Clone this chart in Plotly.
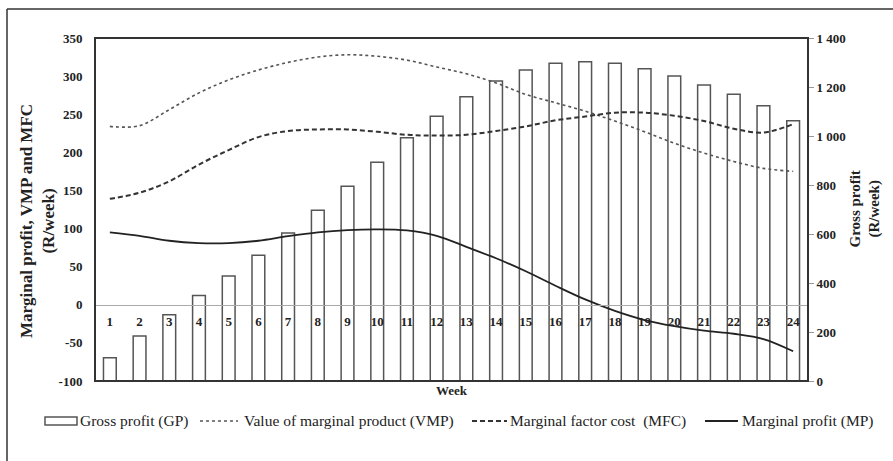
import plotly.graph_objects as go

weeks = list(range(1, 25))
week_labels = [str(w) for w in weeks]
gross_profit = [95, 184, 270, 349, 429, 513, 604, 697, 795, 893, 993, 1081,
                1160, 1224, 1269, 1297, 1303, 1297, 1275, 1245, 1208, 1170, 1123, 1062]
vmp = [234, 235, 256, 278, 295, 308, 318, 325, 328, 326, 321, 312,
       303, 291, 276, 265, 254, 241, 227, 212, 199, 188, 179, 175]
mfc = [139, 147, 162, 184, 203, 220, 228, 230, 230, 227, 223, 222,
       223, 228, 234, 242, 247, 252, 252, 248, 241, 231, 226, 237]
mp = [95, 90.5, 84, 81, 81, 84, 90, 95, 98, 99, 97.5, 90.5,
      76, 61, 44, 25, 7, -8, -20, -28, -34, -38, -45, -61]

left_ticks = [-100, -50, 0, 50, 100, 150, 200, 250, 300, 350]
left_ticktext = ["-100", "-50", "0", "50", "100", "150", "200", "250", "300", "350"]
right_ticks = [0, 200, 400, 600, 800, 1000, 1200, 1400]
right_ticktext = ["0", "200", "400", "600", "800", "1 000", "1 200", "1 400"]

series_names = ["Gross profit (GP)", "Value of marginal product (VMP)",
                "Marginal factor cost  (MFC)", "Marginal profit (MP)"]

FONT = "Liberation Serif"
W, H = 893, 461
ML, MR, MT, MB = 95, 85, 38, 80
PW, PH = W - ML - MR, H - MT - MB


def px(x):
    return (x - ML) / PW


def py(y):
    return (H - MB - y) / PH


BAR_STYLE = dict(color="white", line=dict(color="#555555", width=1.5))
VMP_LINE = dict(color="#555555", width=1.6, dash="dot")
MFC_LINE = dict(color="#333333", width=2, dash="5px,3px")
MP_LINE = dict(color="#222222", width=1.8)

fig = go.Figure()
fig.add_trace(go.Bar(
    x=weeks, y=gross_profit, name=series_names[0], yaxis="y",
    marker=BAR_STYLE, width=0.43,
))
fig.add_trace(go.Scatter(
    x=weeks, y=vmp, name=series_names[1], yaxis="y2", mode="lines",
    line=dict(**VMP_LINE, shape="spline", smoothing=1.0),
))
fig.add_trace(go.Scatter(
    x=weeks, y=mfc, name=series_names[2], yaxis="y2", mode="lines",
    line=dict(**MFC_LINE, shape="spline", smoothing=1.0),
))
fig.add_trace(go.Scatter(
    x=weeks, y=mp, name=series_names[3], yaxis="y2", mode="lines",
    line=dict(**MP_LINE, shape="spline", smoothing=1.0),
))

ymin, ymax = left_ticks[0], left_ticks[-1]
zero_pos = (0 - ymin) / (ymax - ymin)

# manual legend (one row, as in the original)
LEG_Y = 421
legend_shapes = [
    dict(type="rect", xref="paper", yref="paper", x0=px(45), x1=px(77),
         y0=py(LEG_Y + 4), y1=py(LEG_Y - 4), line=BAR_STYLE["line"], fillcolor="white"),
    dict(type="line", xref="paper", yref="paper", x0=px(200), x1=px(238),
         y0=py(LEG_Y), y1=py(LEG_Y), line=VMP_LINE),
    dict(type="line", xref="paper", yref="paper", x0=px(472), x1=px(507),
         y0=py(LEG_Y), y1=py(LEG_Y), line=MFC_LINE),
    dict(type="line", xref="paper", yref="paper", x0=px(705), x1=px(738),
         y0=py(LEG_Y), y1=py(LEG_Y), line=MP_LINE),
]
legend_text_x = [78, 242, 508, 740]
legend_annotations = [
    dict(text=name, xref="paper", yref="paper", x=px(tx), y=py(LEG_Y),
         xanchor="left", yanchor="middle", showarrow=False,
         font=dict(family=FONT, size=15.5, color="#222222"))
    for name, tx in zip(series_names, legend_text_x)
]

fig.update_layout(
    width=W, height=H,
    margin=dict(l=ML, r=MR, t=MT, b=MB),
    paper_bgcolor="white", plot_bgcolor="white",
    font=dict(family=FONT, color="#222222", size=13),
    showlegend=False,
    xaxis=dict(
        range=[0.5, 24.5], tickvals=weeks, ticktext=week_labels,
        anchor="free", position=zero_pos,
        showline=True, linecolor="#aaaaaa", linewidth=1,
        ticks="outside", ticklen=5, tickcolor="rgba(0,0,0,0)",
        tickfont=dict(family=FONT, size=13, color="#222222", weight="bold"),
        showgrid=False, zeroline=False,
    ),
    yaxis=dict(
        side="right", range=[0, 1400], tickvals=right_ticks, ticktext=right_ticktext,
        ticks="outside", ticklen=5, tickcolor="#999999",
        tickfont=dict(family=FONT, size=13, color="#222222", weight="bold"),
        showgrid=False, zeroline=False, showline=False,
    ),
    yaxis2=dict(
        side="left", overlaying="y", range=[ymin, ymax], tickvals=left_ticks,
        ticktext=left_ticktext,
        ticks="outside", ticklen=9, tickcolor="rgba(0,0,0,0)",
        tickfont=dict(family=FONT, size=13, color="#222222", weight="bold"),
        showgrid=False, zeroline=False, showline=False,
    ),
    shapes=[
        dict(type="rect", xref="paper", yref="paper", x0=0, x1=1, y0=0, y1=1,
             line=dict(color="#333333", width=2), layer="above"),
        dict(type="line", xref="paper", yref="paper", x0=px(7), x1=px(7), y0=py(9), y1=py(470),
             line=dict(color="#333333", width=1.5), layer="below"),
        dict(type="line", xref="paper", yref="paper", x0=px(7), x1=px(900), y0=py(9), y1=py(9),
             line=dict(color="#333333", width=1.5), layer="below"),
    ] + legend_shapes,
    annotations=[
        dict(text="<b>Marginal profit, VMP and MFC<br>(R/week)</b>", xref="paper", yref="paper",
             x=px(37), y=py(221), textangle=-90, showarrow=False, xanchor="center", yanchor="middle",
             font=dict(family=FONT, size=17, color="#222222")),
        dict(text="<b>Gross profit<br>(R/week)</b>", xref="paper", yref="paper",
             x=px(865), y=0.5, textangle=-90, showarrow=False, xanchor="center", yanchor="middle",
             font=dict(family=FONT, size=15, color="#222222")),
        dict(text="<b>Week</b>", xref="paper", yref="paper", x=px(452), y=py(390),
             showarrow=False, xanchor="center", yanchor="middle",
             font=dict(family=FONT, size=13, color="#222222")),
    ] + legend_annotations,
)

fig.write_html("out.html")
